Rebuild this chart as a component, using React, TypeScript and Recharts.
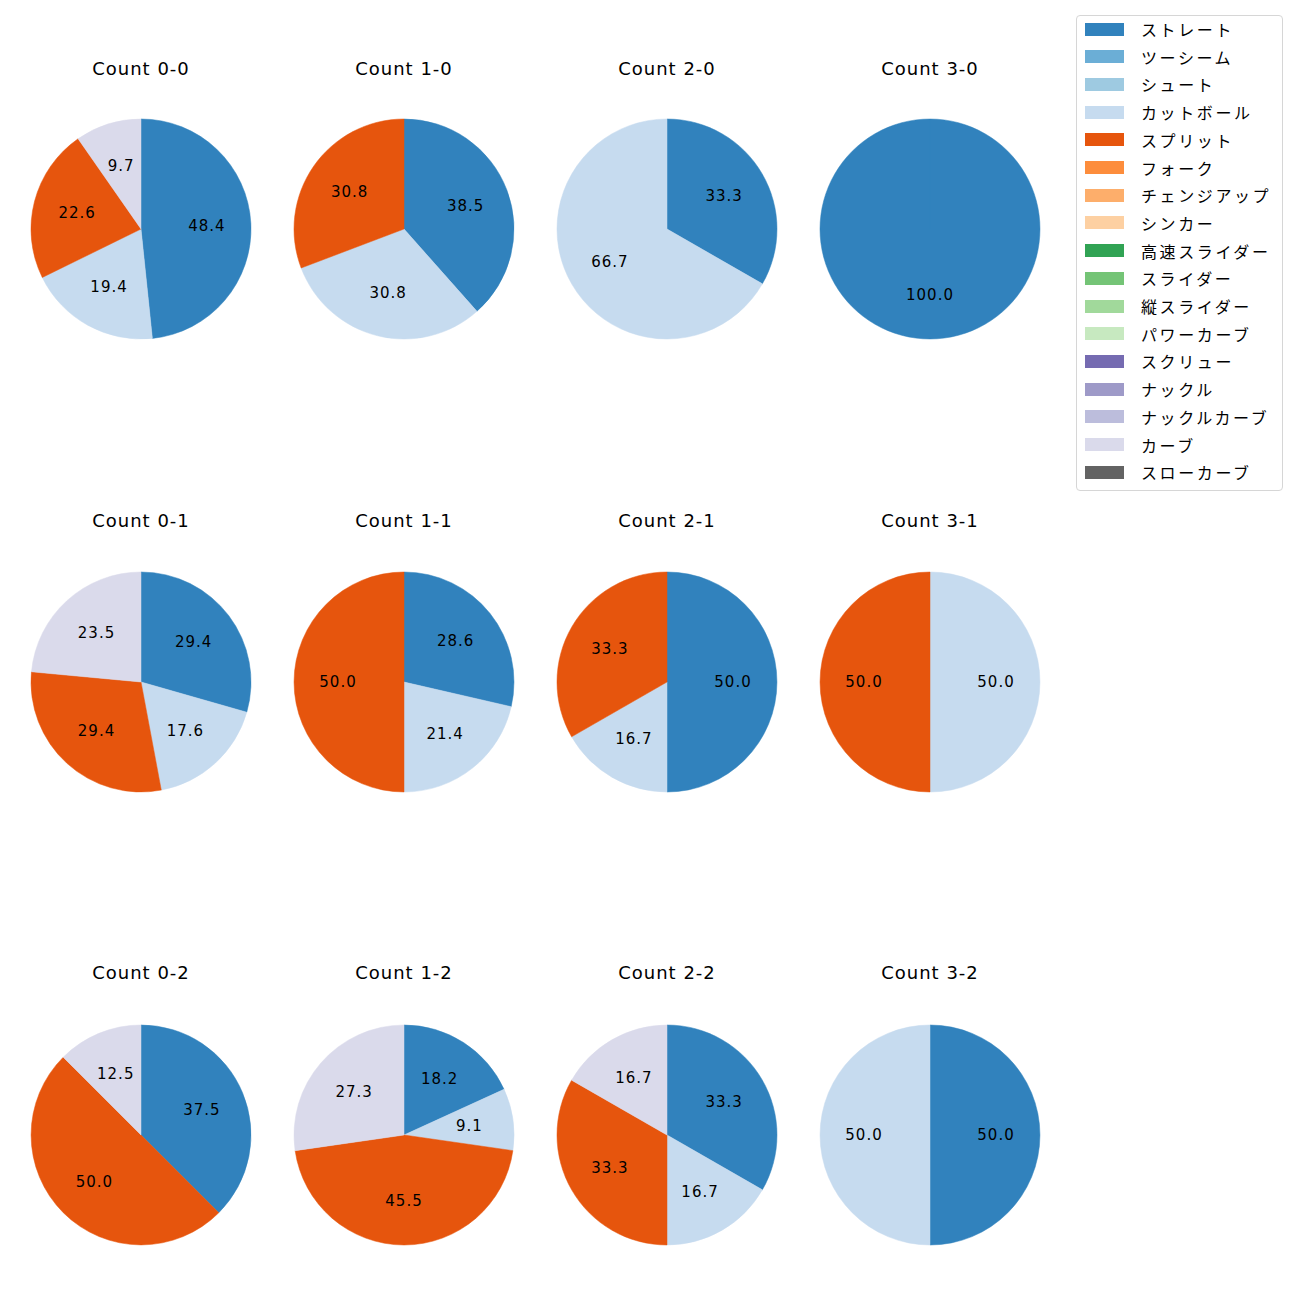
import React from 'react';
import { PieChart, Pie, Cell } from 'recharts';

const pitchTypes = [
  'ストレート', 'ツーシーム', 'シュート', 'カットボール', 'スプリット', 'フォーク',
  'チェンジアップ', 'シンカー', '高速スライダー', 'スライダー', '縦スライダー',
  'パワーカーブ', 'スクリュー', 'ナックル', 'ナックルカーブ', 'カーブ', 'スローカーブ',
];
const pitchColors = [
  '#3182bd', '#6baed6', '#9ecae1', '#c6dbef', '#e6550d', '#fd8d3c',
  '#fdae6b', '#fdd0a2', '#31a354', '#74c476', '#a1d99b',
  '#c7e9c0', '#756bb1', '#9e9ac8', '#bcbddc', '#dadaeb', '#636363',
];

const count00 = [
  { pitch: 'ストレート', value: 48.4 },
  { pitch: 'カットボール', value: 19.4 },
  { pitch: 'スプリット', value: 22.6 },
  { pitch: 'カーブ', value: 9.7 },
];
const count10 = [
  { pitch: 'ストレート', value: 38.5 },
  { pitch: 'カットボール', value: 30.8 },
  { pitch: 'スプリット', value: 30.8 },
];
const count20 = [
  { pitch: 'ストレート', value: 33.3 },
  { pitch: 'カットボール', value: 66.7 },
];
const count30 = [{ pitch: 'ストレート', value: 100.0 }];
const count01 = [
  { pitch: 'ストレート', value: 29.4 },
  { pitch: 'カットボール', value: 17.6 },
  { pitch: 'スプリット', value: 29.4 },
  { pitch: 'カーブ', value: 23.5 },
];
const count11 = [
  { pitch: 'ストレート', value: 28.6 },
  { pitch: 'カットボール', value: 21.4 },
  { pitch: 'スプリット', value: 50.0 },
];
const count21 = [
  { pitch: 'ストレート', value: 50.0 },
  { pitch: 'カットボール', value: 16.7 },
  { pitch: 'スプリット', value: 33.3 },
];
const count31 = [
  { pitch: 'カットボール', value: 50.0 },
  { pitch: 'スプリット', value: 50.0 },
];
const count02 = [
  { pitch: 'ストレート', value: 37.5 },
  { pitch: 'スプリット', value: 50.0 },
  { pitch: 'カーブ', value: 12.5 },
];
const count12 = [
  { pitch: 'ストレート', value: 18.2 },
  { pitch: 'カットボール', value: 9.1 },
  { pitch: 'スプリット', value: 45.5 },
  { pitch: 'カーブ', value: 27.3 },
];
const count22 = [
  { pitch: 'ストレート', value: 33.3 },
  { pitch: 'カットボール', value: 16.7 },
  { pitch: 'スプリット', value: 33.3 },
  { pitch: 'カーブ', value: 16.7 },
];
const count32 = [
  { pitch: 'ストレート', value: 50.0 },
  { pitch: 'カットボール', value: 50.0 },
];

const panelTitles = [
  'Count 0-0', 'Count 1-0', 'Count 2-0', 'Count 3-0',
  'Count 0-1', 'Count 1-1', 'Count 2-1', 'Count 3-1',
  'Count 0-2', 'Count 1-2', 'Count 2-2', 'Count 3-2',
];
const panelData = [
  count00, count10, count20, count30,
  count01, count11, count21, count31,
  count02, count12, count22, count32,
];

const JP_FONT = '"Noto Sans CJK JP", "Noto Sans", sans-serif';
const LATIN_FONT = '"DejaVu Sans", sans-serif';
const colX = [141, 404, 667, 930];
const rowY = [229, 682, 1135];
const titleY = [69, 521, 973];
const R = 110;
const BOX = 250;

const colorOf = (p: string) => pitchColors[pitchTypes.indexOf(p)];

const renderLabel = (props: any) => {
  const { cx, cy, midAngle, outerRadius, value } = props;
  const rad = (midAngle * Math.PI) / 180;
  const r = outerRadius * 0.6;
  const x = cx + r * Math.cos(rad);
  const y = cy - r * Math.sin(rad);
  return (
    <text x={x} y={y} textAnchor="middle" dominantBaseline="central"
      fill="#000" fontSize={15} fontFamily={LATIN_FONT} letterSpacing={1}>
      {Number(value).toFixed(1)}
    </text>
  );
};

function Panel({ idx }: { idx: number }) {
  const col = idx % 4;
  const row = Math.floor(idx / 4);
  const cx = colX[col];
  const cy = rowY[row];
  const data = panelData[idx];
  return (
    <>
      <div style={{
        position: 'absolute', left: cx - 100, width: 200, top: titleY[row] - 12,
        height: 24, lineHeight: '24px', textAlign: 'center', fontSize: 18,
        letterSpacing: 1, fontFamily: LATIN_FONT, color: '#000',
      }}>
        {panelTitles[idx]}
      </div>
      <div style={{ position: 'absolute', left: cx - BOX / 2, top: cy - BOX / 2 }}>
        <PieChart width={BOX} height={BOX} margin={{ top: 0, right: 0, bottom: 0, left: 0 }}>
          <Pie
            data={data}
            dataKey="value"
            nameKey="pitch"
            cx={BOX / 2}
            cy={BOX / 2}
            outerRadius={R}
            startAngle={90}
            endAngle={-270}
            label={renderLabel}
            labelLine={false}
            isAnimationActive={false}
          >
            {data.map((d, i) => (
              <Cell key={`c-${idx}-${i}`} fill={colorOf(d.pitch)} stroke={colorOf(d.pitch)} strokeWidth={0.5} />
            ))}
          </Pie>
        </PieChart>
      </div>
    </>
  );
}

export default function App() {
  return (
    <div style={{ position: 'absolute', left: 0, top: 0, width: 1300, height: 1300, background: '#fff', fontFamily: JP_FONT }}>
      {panelTitles.map((_t, i) => <Panel key={i} idx={i} />)}
      <div style={{
        position: 'absolute', left: 1076, top: 15, width: 205, height: 474,
        border: '1px solid #d6d6d6', borderRadius: 4, boxSizing: 'content-box',
      }}>
        {pitchTypes.map((p, i) => (
          <div key={p} style={{ position: 'absolute', left: 8, top: 6 + i * 27.7, height: 14, display: 'flex', alignItems: 'center' }}>
            <div style={{ width: 39, height: 13, background: pitchColors[i] }} />
            <span style={{ marginLeft: 17, fontSize: 16, color: '#000', whiteSpace: 'nowrap', letterSpacing: 2.6 }}>{p}</span>
          </div>
        ))}
      </div>
    </div>
  );
}
